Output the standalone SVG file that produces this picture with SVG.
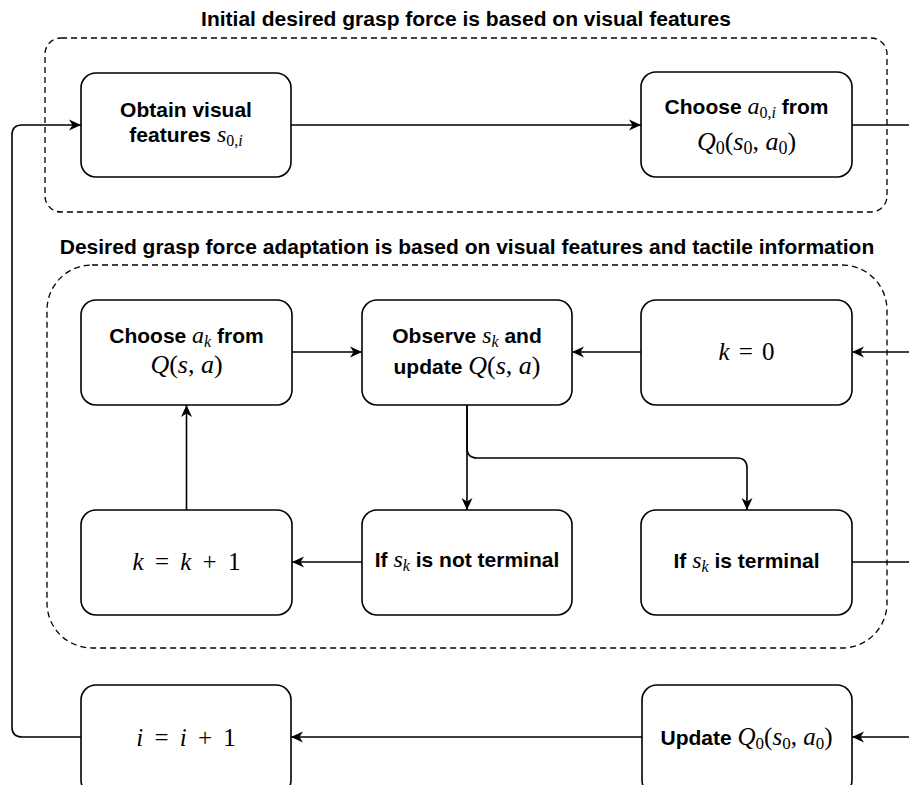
<svg xmlns="http://www.w3.org/2000/svg" width="909" height="785" viewBox="0 0 909 785">
<style>
.box{fill:#fff;stroke:#000;stroke-width:1.6}
.cont{fill:none;stroke:#000;stroke-width:1.3;stroke-dasharray:6 4}
.edge{fill:none;stroke:#000;stroke-width:1.6}
.t{font-family:"Liberation Sans",Arial,sans-serif;font-weight:bold;font-size:21px;fill:#000}
.title{font-family:"Liberation Sans",Arial,sans-serif;font-weight:bold;font-size:21px;fill:#000}
.m{font-family:"Liberation Serif","Times New Roman",serif;font-style:italic;font-weight:normal}
.r{font-family:"Liberation Serif","Times New Roman",serif;font-style:normal;font-weight:normal}
</style>
<defs>
<marker id="arr" markerWidth="14" markerHeight="12" refX="12" refY="6" orient="auto" markerUnits="userSpaceOnUse">
<path d="M0,0.5 L12,6 L0,11.5 L3.5,6 Z" fill="#000"/>
</marker>
</defs>

<g id="containers">
<g id="group-initial">
<rect class="cont" x="45" y="38" width="842" height="174" rx="16"/>
<text class="title" x="466" y="26" text-anchor="middle">Initial desired grasp force is based on visual features</text>
</g>
<g id="group-adaptation">
<rect class="cont" x="47" y="265" width="840" height="383" rx="45"/>
<text class="title" x="467" y="254" text-anchor="middle">Desired grasp force adaptation is based on visual features and tactile information</text>
</g>
</g>

<g id="connectors">
<path class="edge" d="M81,737 L22,737 Q12,737 12,727 L12,135 Q12,125 22,125 L81,125" marker-end="url(#arr)"/>
<path class="edge" d="M291,125 L641,125" marker-end="url(#arr)"/>
<path class="edge" d="M852,125 L915,125"/>
<path class="edge" d="M915,352 L852,352" marker-end="url(#arr)"/>
<path class="edge" d="M641,352 L572,352" marker-end="url(#arr)"/>
<path class="edge" d="M292,352 L362,352" marker-end="url(#arr)"/>
<path class="edge" d="M467,405 L467,510" marker-end="url(#arr)"/>
<path class="edge" d="M467,405 L467,448 Q467,458 477,458 L737,458 Q747,458 747,468 L747,510" marker-end="url(#arr)"/>
<path class="edge" d="M362,562 L292,562" marker-end="url(#arr)"/>
<path class="edge" d="M186.5,510 L186.5,405" marker-end="url(#arr)"/>
<path class="edge" d="M852,562 L915,562"/>
<path class="edge" d="M915,737 L852,737" marker-end="url(#arr)"/>
<path class="edge" d="M642,737 L291,737" marker-end="url(#arr)"/>
</g>

<g id="node-obtain">
<rect class="box" x="81" y="73" width="210" height="104" rx="15"/>
<text class="t" x="186" y="117" text-anchor="middle">Obtain visual</text>
<text class="t" x="186" y="142" text-anchor="middle">features <tspan class="m" font-size="24">s</tspan><tspan class="r" font-size="16" dy="4">0,</tspan><tspan class="m" font-size="16">i</tspan><tspan dy="-4"></tspan></text>
</g>

<g id="node-choose0">
<rect class="box" x="641" y="72" width="211" height="105" rx="15"/>
<text class="t" x="746.5" y="114" text-anchor="middle">Choose <tspan class="m" font-size="24">a</tspan><tspan class="r" font-size="16" dy="4">0,</tspan><tspan class="m" font-size="16">i</tspan><tspan dy="-4"> from</tspan></text>
<text class="r" x="746.5" y="150" text-anchor="middle" font-size="26"><tspan class="m">Q</tspan><tspan font-size="18" dy="4">0</tspan><tspan dy="-4">(</tspan><tspan class="m">s</tspan><tspan font-size="18" dy="4">0</tspan><tspan dy="-4">, </tspan><tspan class="m">a</tspan><tspan font-size="18" dy="4">0</tspan><tspan dy="-4">)</tspan></text>
</g>

<g id="node-choosek">
<rect class="box" x="81" y="300" width="211" height="105" rx="15"/>
<text class="t" x="186.5" y="343" text-anchor="middle">Choose <tspan class="m" font-size="24">a</tspan><tspan class="m" font-size="16" dy="4">k</tspan><tspan dy="-4"> from</tspan></text>
<text class="r" x="186.5" y="373" text-anchor="middle" font-size="26"><tspan class="m">Q</tspan>(<tspan class="m">s</tspan>, <tspan class="m">a</tspan>)</text>
</g>

<g id="node-observe">
<rect class="box" x="362" y="300" width="210" height="105" rx="15"/>
<text class="t" x="467" y="343" text-anchor="middle">Observe <tspan class="m" font-size="24">s</tspan><tspan class="m" font-size="16" dy="4">k</tspan><tspan dy="-4"> and</tspan></text>
<text class="t" x="467" y="374" text-anchor="middle">update <tspan class="m" font-size="26">Q</tspan><tspan class="r" font-size="26">(</tspan><tspan class="m" font-size="26">s</tspan><tspan class="r" font-size="26">, </tspan><tspan class="m" font-size="26">a</tspan><tspan class="r" font-size="26">)</tspan></text>
</g>

<g id="node-k0">
<rect class="box" x="641" y="300" width="211" height="105" rx="15"/>
<text class="r" x="746.5" y="360" text-anchor="middle" font-size="25" word-spacing="3"><tspan class="m">k</tspan> = 0</text>
</g>

<g id="node-kk1">
<rect class="box" x="81" y="510" width="211" height="105" rx="15"/>
<text class="r" x="186.5" y="570" text-anchor="middle" font-size="25" word-spacing="5"><tspan class="m">k</tspan> = <tspan class="m">k</tspan> + 1</text>
</g>

<g id="node-notterminal">
<rect class="box" x="362" y="510" width="210" height="105" rx="15"/>
<text class="t" x="467" y="567" text-anchor="middle">If <tspan class="m" font-size="24">s</tspan><tspan class="m" font-size="16" dy="4">k</tspan><tspan dy="-4"> is not terminal</tspan></text>
</g>

<g id="node-terminal">
<rect class="box" x="641" y="510" width="211" height="105" rx="15"/>
<text class="t" x="746.5" y="568" text-anchor="middle">If <tspan class="m" font-size="24">s</tspan><tspan class="m" font-size="16" dy="4">k</tspan><tspan dy="-4"> is terminal</tspan></text>
</g>

<g id="node-ii1">
<rect class="box" x="81" y="685" width="210" height="110" rx="15"/>
<text class="r" x="186" y="746" text-anchor="middle" font-size="25" word-spacing="5"><tspan class="m">i</tspan> = <tspan class="m">i</tspan> + 1</text>
</g>

<g id="node-update">
<rect class="box" x="642" y="685" width="210" height="110" rx="15"/>
<text class="t" x="746.5" y="745" text-anchor="middle" font-size="19.5">Update <tspan class="m" font-size="25">Q</tspan><tspan class="r" font-size="17" dy="4">0</tspan><tspan class="r" font-size="25" dy="-4">(</tspan><tspan class="m" font-size="25">s</tspan><tspan class="r" font-size="17" dy="4">0</tspan><tspan class="r" font-size="25" dy="-4">, </tspan><tspan class="m" font-size="25">a</tspan><tspan class="r" font-size="17" dy="4">0</tspan><tspan class="r" font-size="25" dy="-4">)</tspan></text>
</g>
</svg>
